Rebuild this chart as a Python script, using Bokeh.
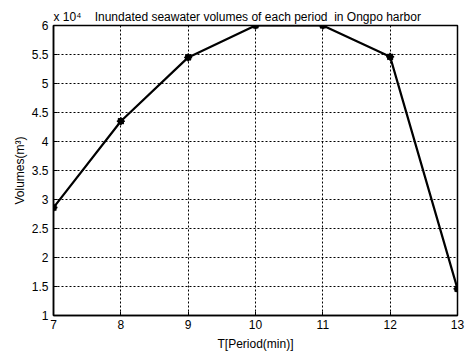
from bokeh.plotting import figure
from bokeh.models import Range1d, FixedTicker
from bokeh.embed import file_html
from bokeh.resources import INLINE

# Data
periods = [7, 8, 9, 10, 11, 12, 13]                     # T (min)
volumes = [2.86, 4.35, 5.45, 6.00, 6.00, 5.46, 1.46]     # x 10^4 m^3
x_ticks = [7, 8, 9, 10, 11, 12, 13]
y_ticks = [1, 1.5, 2, 2.5, 3, 3.5, 4, 4.5, 5, 5.5, 6]

FONT = "Liberation Sans"
NB = "\u00a0"

p = figure(width=466, height=353, output_backend="svg", toolbar_location=None,
           x_range=Range1d(7, 13), y_range=Range1d(1, 6),
           min_border_left=53, min_border_right=9, min_border_top=25, min_border_bottom=33)
p.background_fill_color = "white"
p.border_fill_color = "white"
p.outline_line_color = "black"
p.outline_line_width = 1.5

p.title.text = "x 10\u2074" + NB * 4 + "Inundated seawater volumes of each period" + NB * 2 + "in Ongpo harbor"
p.title.align = "left"
p.title.offset = 0
p.title.text_font = FONT
p.title.text_font_size = "12px"
p.title.text_font_style = "normal"
p.title.text_color = "black"
p.title.standoff = 3

for ax in (p.xaxis[0], p.yaxis[0]):
    ax.axis_line_color = "black"
    ax.axis_line_width = 1.5
    ax.major_tick_in = 4
    ax.major_tick_out = 0
    ax.minor_tick_in = 0
    ax.minor_tick_out = 0
    ax.major_tick_line_color = "black"
    ax.major_label_text_font = FONT
    ax.major_label_text_font_size = "12px"
    ax.major_label_text_color = "black"
    ax.axis_label_text_font = FONT
    ax.axis_label_text_font_size = "12px"
    ax.axis_label_text_font_style = "normal"
    ax.axis_label_text_color = "black"

p.xaxis.ticker = FixedTicker(ticks=x_ticks)
p.yaxis.ticker = FixedTicker(ticks=y_ticks)
p.yaxis.major_label_overrides = {t: f"{t:g}" for t in y_ticks}
p.xaxis.major_label_standoff = 4
p.yaxis.major_label_standoff = 5
p.xaxis.axis_label = "T[Period(min)]"
p.yaxis.axis_label = "Volumes(m\u00b3)"
p.xaxis.axis_label_standoff = 5
p.yaxis.axis_label_standoff = 2

for g in (p.xgrid[0], p.ygrid[0]):
    g.grid_line_color = "black"
    g.grid_line_dash = "2 2"
    g.grid_line_width = 1

p.line(periods, volumes, line_color="black", line_width=2.2)
p.scatter(periods, volumes, marker="circle", size=6, color="black")
p.scatter(periods, volumes, marker="asterisk", size=8, line_color="black", line_width=1.5)

open("out.html", "w").write(file_html(p, INLINE))
